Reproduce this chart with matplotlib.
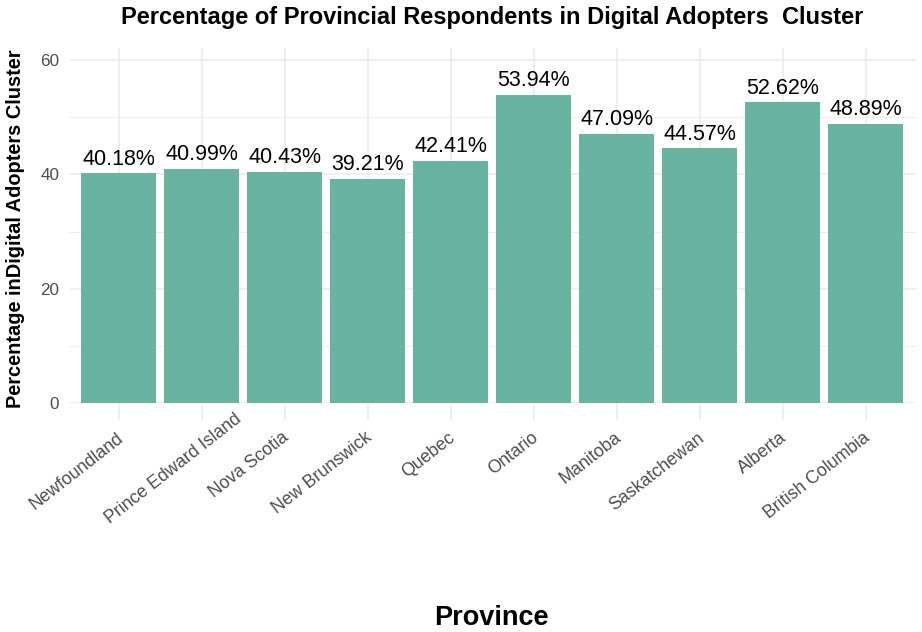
import matplotlib
matplotlib.use("Agg")
import matplotlib.pyplot as plt
import matplotlib.transforms as mtransforms

provinces = ["Newfoundland", "Prince Edward Island", "Nova Scotia", "New Brunswick",
             "Quebec", "Ontario", "Manitoba", "Saskatchewan", "Alberta", "British Columbia"]
percentages = [40.18, 40.99, 40.43, 39.21, 42.41, 53.94, 47.09, 44.57, 52.62, 48.89]
y_ticks = [0, 20, 40, 60]
y_minor = [10, 30, 50]

plt.rcParams['font.family'] = ['Liberation Sans', 'DejaVu Sans']

W, H = 922, 632
fig = plt.figure(figsize=(W / 100, H / 100), dpi=100)
left, right, top, bottom = 69, 915.5, 48, 403
ax = fig.add_axes([left / W, 1 - bottom / H, (right - left) / W, (bottom - top) / H])

grid_c = '#EBEBEB'
x = list(range(len(provinces)))
ax.set_xlim(-0.6, len(provinces) - 0.4)
ax.set_ylim(0, 62.1)

for v in y_minor:
    ax.axhline(v, color=grid_c, lw=0.6, zorder=0)
for v in y_ticks:
    ax.axhline(v, color=grid_c, lw=1.1, zorder=0)
for xi in x:
    ax.axvline(xi, color=grid_c, lw=1.1, zorder=0)

ax.bar(x, percentages, width=0.9, color='#69b3a2', zorder=2)
for xi, v in zip(x, percentages):
    ax.annotate(f"{v:.2f}%", (xi, v), xytext=(0, 2.5), textcoords='offset points',
                ha='center', va='bottom', fontsize=15.5, color='black', zorder=3)

for s in ax.spines.values():
    s.set_visible(False)

ax.set_yticks(y_ticks)
ax.set_yticklabels([str(v) for v in y_ticks], fontsize=12.3, color='#4D4D4D')
ax.tick_params(axis='y', length=0, pad=7)

ax.set_xticks(x)
ax.set_xticklabels(provinces, fontsize=12.8, color='#4D4D4D', rotation=38,
                   ha='right', va='top', rotation_mode='anchor')
ax.tick_params(axis='x', length=12, width=1.1, color=grid_c, pad=5.5)
for lab in ax.get_xticklabels():
    dx, dy = -3, -2
    if lab.get_text() == "Prince Edward Island":
        dx, dy = 32, 17
    off = mtransforms.ScaledTranslation(dx / 100, dy / 100, fig.dpi_scale_trans)
    lab.set_transform(lab.get_transform() + off)

fig.text(492 / W, 1 - 24 / H, "Percentage of Provincial Respondents in Digital Adopters  Cluster",
         fontsize=17, fontweight='bold', ha='center', va='baseline')
fig.text(16 / W, 1 - 229 / H, "Percentage inDigital Adopters Cluster", fontsize=14.4,
         fontweight='bold', rotation=90, ha='center', va='center')
fig.text(491 / W, 1 - 625 / H, "Province", fontsize=19.5, fontweight='bold',
         ha='center', va='baseline')

fig.savefig("out.png", dpi=100)
